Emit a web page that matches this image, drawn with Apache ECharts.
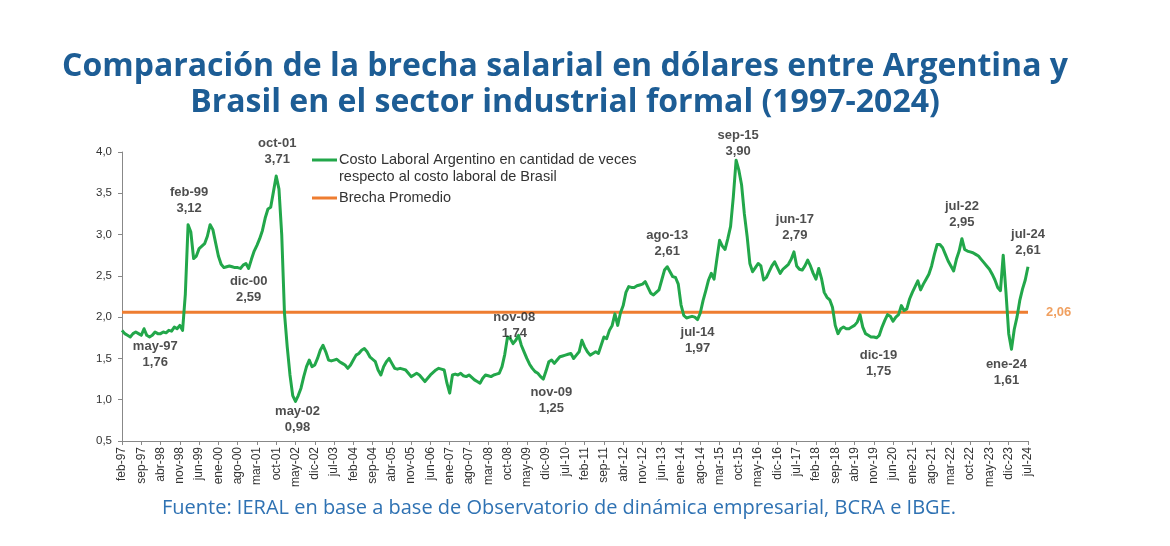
<!DOCTYPE html>
<html>
<head>
<meta charset="utf-8">
<script src="https://cdn.jsdelivr.net/npm/echarts@6/dist/echarts.min.js"></script>
<style>
html,body{margin:0;padding:0;background:#fff;}
#chart{width:1170px;height:546px;}
</style>
</head>
<body>
<div id="chart"></div>
<script>
// ---- DATA ----
const monthNames = ['ene','feb','mar','abr','may','jun','jul','ago','sep','oct','nov','dic'];
// Monthly values, feb-97 .. jul-24
const v1997 = [1.84, 1.80, 1.78, 1.76, 1.80, 1.82, 1.80, 1.78, 1.86, 1.78, 1.76]; // feb-dic
const v1998 = [1.78, 1.82, 1.80, 1.80, 1.82, 1.81, 1.84, 1.83, 1.88, 1.86, 1.90, 1.84];
const v1999 = [2.28, 3.12, 3.03, 2.71, 2.74, 2.83, 2.86, 2.89, 2.98, 3.12, 3.06, 2.90];
const v2000 = [2.74, 2.64, 2.60, 2.61, 2.62, 2.61, 2.60, 2.60, 2.59, 2.63, 2.65, 2.59];
const v2001 = [2.70, 2.80, 2.87, 2.95, 3.05, 3.20, 3.31, 3.33, 3.52, 3.71, 3.55, 3.00];
const v2002 = [2.05, 1.64, 1.30, 1.05, 0.98, 1.05, 1.14, 1.28, 1.40, 1.48, 1.40, 1.42];
const v2003 = [1.50, 1.60, 1.66, 1.58, 1.48, 1.47, 1.48, 1.49, 1.46, 1.44, 1.42, 1.38];
const v2004 = [1.42, 1.48, 1.54, 1.56, 1.60, 1.62, 1.58, 1.52, 1.49, 1.46, 1.36, 1.30];
const v2005 = [1.40, 1.46, 1.50, 1.44, 1.38, 1.37, 1.38, 1.37, 1.36, 1.32, 1.28, 1.30];
const v2006 = [1.32, 1.30, 1.26, 1.22, 1.26, 1.30, 1.33, 1.36, 1.38, 1.37, 1.36, 1.20];
const v2007 = [1.08, 1.30, 1.31, 1.30, 1.32, 1.29, 1.28, 1.30, 1.27, 1.24, 1.22, 1.20];
const v2008 = [1.26, 1.30, 1.29, 1.28, 1.30, 1.31, 1.32, 1.40, 1.55, 1.76, 1.74, 1.68];
const v2009 = [1.72, 1.78, 1.66, 1.58, 1.50, 1.43, 1.38, 1.34, 1.32, 1.28, 1.25, 1.35];
const v2010 = [1.46, 1.48, 1.44, 1.48, 1.52, 1.53, 1.54, 1.55, 1.56, 1.50, 1.54, 1.58];
const v2011 = [1.72, 1.64, 1.58, 1.54, 1.56, 1.58, 1.56, 1.66, 1.76, 1.74, 1.84, 1.90];
const v2012 = [2.04, 1.90, 2.05, 2.14, 2.30, 2.37, 2.36, 2.36, 2.38, 2.39, 2.40, 2.43];
const v2013 = [2.36, 2.29, 2.27, 2.30, 2.33, 2.45, 2.57, 2.61, 2.55, 2.49, 2.48, 2.40];
const v2014 = [2.15, 2.02, 1.99, 2.00, 2.01, 2.00, 1.97, 2.05, 2.20, 2.32, 2.45, 2.53];
const v2015 = [2.46, 2.70, 2.93, 2.86, 2.82, 2.95, 3.10, 3.46, 3.90, 3.78, 3.60, 3.25];
const v2016 = [2.98, 2.65, 2.55, 2.60, 2.65, 2.62, 2.45, 2.48, 2.55, 2.62, 2.67, 2.60];
const v2017 = [2.53, 2.58, 2.61, 2.64, 2.70, 2.79, 2.62, 2.58, 2.57, 2.62, 2.69, 2.62];
const v2018 = [2.53, 2.46, 2.59, 2.47, 2.30, 2.24, 2.21, 2.12, 1.90, 1.80, 1.86, 1.88];
const v2019 = [1.86, 1.86, 1.88, 1.90, 1.94, 2.03, 1.88, 1.80, 1.78, 1.76, 1.76, 1.75];
const v2020 = [1.78, 1.88, 1.96, 2.03, 2.01, 1.95, 2.00, 2.03, 2.14, 2.08, 2.10, 2.22];
const v2021 = [2.30, 2.37, 2.44, 2.33, 2.40, 2.46, 2.52, 2.62, 2.76, 2.88, 2.88, 2.84];
const v2022 = [2.76, 2.68, 2.62, 2.56, 2.70, 2.80, 2.95, 2.82, 2.80, 2.79, 2.78, 2.76];
const v2023 = [2.74, 2.70, 2.66, 2.62, 2.58, 2.52, 2.45, 2.36, 2.32, 2.75, 2.30, 1.80];
const v2024 = [1.61, 1.85, 2.00, 2.20, 2.34, 2.45, 2.61]; // ene-jul

const averageGap = 2.06;

// Annotated points: category label -> text
const annotations = [
  ['may-97', '1,76'], ['feb-99', '3,12'], ['dic-00', '2,59'], ['oct-01', '3,71'],
  ['may-02', '0,98'], ['nov-08', '1,74'], ['nov-09', '1,25'], ['ago-13', '2,61'],
  ['jul-14', '1,97'], ['sep-15', '3,90'], ['jun-17', '2,79'], ['dic-19', '1,75'],
  ['jul-22', '2,95'], ['ene-24', '1,61'], ['jul-24', '2,61']
];

// ---- BUILD ----
const yearly = [v1997, v1998, v1999, v2000, v2001, v2002, v2003, v2004, v2005, v2006,
  v2007, v2008, v2009, v2010, v2011, v2012, v2013, v2014, v2015, v2016, v2017, v2018,
  v2019, v2020, v2021, v2022, v2023, v2024];
const categories = [];
const values = [];
yearly.forEach((arr, yi) => {
  const year = 1997 + yi;
  const startMonth = (year === 1997) ? 1 : 0;
  arr.forEach((v, k) => {
    const m = startMonth + k;
    categories.push(monthNames[m] + '-' + String(year % 100).padStart(2, '0'));
    values.push(v);
  });
});

// label placement (px relative to the annotated point)
const labelOffsets = {
  'may-97': [25, 17], 'feb-99': [1, -24], 'dic-00': [0, 21], 'oct-01': [1, -25],
  'may-02': [2, 18], 'nov-08': [4, -13], 'nov-09': [8, 21], 'ago-13': [0, -23],
  'jul-14': [0, 21], 'sep-15': [2, -17], 'jun-17': [1, -24], 'dic-19': [2, 26],
  'jul-22': [0, -24], 'ene-24': [-5, 23], 'jul-24': [0, -24]
};
const annMap = {};
annotations.forEach(a => { annMap[a[0]] = a[1]; });

// overlay points carrying the annotation labels (values taken from the series)
const annPoints = [];
categories.forEach((c, i) => {
  if (annMap[c] !== undefined) {
    annPoints.push({ value: [i, values[i]], name: c });
  }
});

const chart = echarts.init(document.getElementById('chart'), null, {renderer: 'canvas'});
const option = {
  backgroundColor: '#ffffff',
  animation: false,
  grid: { left: 122, right: 142, top: 152, bottom: 105, containLabel: false },
  xAxis: {
    type: 'category',
    data: categories,
    boundaryGap: false,
    axisLine: { lineStyle: { color: '#888', width: 1 } },
    axisTick: { interval: 6, length: 4, lineStyle: { color: '#888' } },
    axisLabel: {
      interval: 6, rotate: 90, fontSize: 12, color: '#333', margin: 6,
      fontFamily: 'Liberation Sans, Arial, sans-serif'
    },
    splitLine: { show: false }
  },
  yAxis: {
    type: 'value',
    min: 0.5, max: 4.0, interval: 0.5,
    axisLine: { show: true, lineStyle: { color: '#888', width: 1 } },
    axisTick: { show: true, length: 4, lineStyle: { color: '#888' } },
    axisLabel: {
      fontSize: 11.5, color: '#333', margin: 10,
      fontFamily: 'Liberation Sans, Arial, sans-serif',
      formatter: v => v.toFixed(1).replace('.', ',')
    },
    splitLine: { show: false }
  },
  series: [
    {
      name: 'Brecha Promedio',
      type: 'line',
      data: values.map(() => averageGap),
      symbol: 'none',
      lineStyle: { color: '#ee7d31', width: 3 },
      z: 2,
      silent: true,
      endLabel: {
        show: true,
        formatter: () => averageGap.toFixed(2).replace('.', ','),
        color: '#f0a060',
        fontSize: 13,
        fontWeight: 'bold',
        fontFamily: 'Liberation Sans, Arial, sans-serif',
        distance: 18
      }
    },
    {
      name: 'Costo Laboral Argentino',
      type: 'line',
      data: values,
      symbol: 'none',
      lineStyle: { color: '#22a74a', width: 3, join: 'round' },
      z: 3
    },
    {
      name: 'anotaciones',
      type: 'scatter',
      data: annPoints,
      symbol: 'circle',
      symbolSize: 1,
      itemStyle: { color: 'rgba(0,0,0,0)' },
      label: {
        show: true,
        position: 'inside',
        formatter: p => p.name + '\n' + annMap[p.name],
        fontFamily: 'Liberation Sans, Arial, sans-serif',
        fontWeight: 'bold',
        fontSize: 13,
        lineHeight: 16,
        color: '#222',
        align: 'center',
        verticalAlign: 'middle'
      },
      labelLayout: p => {
        const o = labelOffsets[annPoints[p.dataIndex].name];
        return { dx: o[0], dy: o[1], hideOverlap: false };
      },
      silent: true,
      z: 5
    }
  ],
  graphic: [
    {
      type: 'text', x: 565, y: 67,
      style: { text: 'Comparación de la brecha salarial en dólares entre Argentina y',
        font: 'bold 32px "Open Sans", sans-serif', fill: '#1d5d95', textAlign: 'center', textVerticalAlign: 'middle' }
    },
    {
      type: 'text', x: 565, y: 103,
      style: { text: 'Brasil en el sector industrial formal (1997-2024)',
        font: 'bold 32px "Open Sans", sans-serif', fill: '#1d5d95', textAlign: 'center', textVerticalAlign: 'middle' }
    },
    {
      type: 'text', x: 559, y: 508,
      style: { text: 'Fuente: IERAL en base a base de Observatorio de dinámica empresarial, BCRA e IBGE.',
        font: '20px "Open Sans", sans-serif', fill: '#2f72b3', textAlign: 'center', textVerticalAlign: 'middle' }
    },
    // legend
    { type: 'line', shape: { x1: 312, y1: 160, x2: 337, y2: 160 }, style: { stroke: '#22a74a', lineWidth: 3 } },
    {
      type: 'text', x: 339, y: 160,
      style: { text: 'Costo Laboral Argentino en cantidad de veces', font: '14.5px "Liberation Sans", Arial, sans-serif',
        fill: '#333', textVerticalAlign: 'middle' }
    },
    {
      type: 'text', x: 339, y: 177,
      style: { text: 'respecto al costo laboral de Brasil', font: '14.5px "Liberation Sans", Arial, sans-serif',
        fill: '#333', textVerticalAlign: 'middle' }
    },
    { type: 'line', shape: { x1: 312, y1: 198, x2: 337, y2: 198 }, style: { stroke: '#ee7d31', lineWidth: 3 } },
    {
      type: 'text', x: 339, y: 198,
      style: { text: 'Brecha Promedio', font: '14.5px "Liberation Sans", Arial, sans-serif',
        fill: '#333', textVerticalAlign: 'middle' }
    }
  ]
};
chart.setOption(option);
</script>
</body>
</html>
